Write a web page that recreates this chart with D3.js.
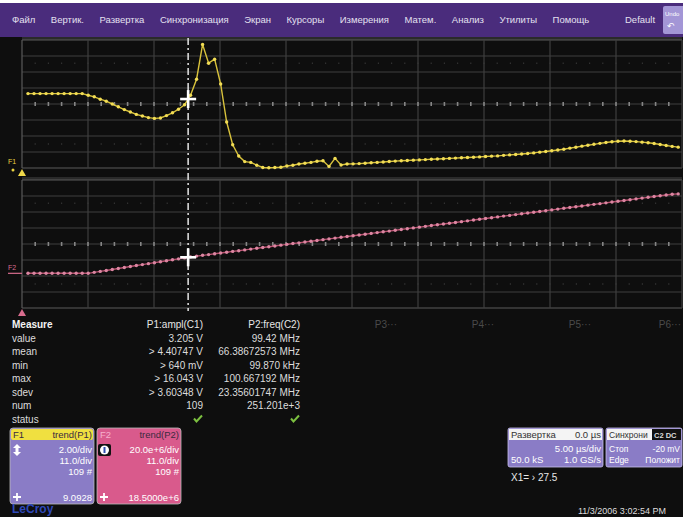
<!DOCTYPE html>
<html>
<head>
<meta charset="utf-8">
<script src="https://cdn.jsdelivr.net/npm/d3@7"></script>
<style>
    body { margin: 0; background: #fff; }
    svg { display: block; font-family: "Liberation Sans", Arial, sans-serif; }
</style>
</head>
<body>
<div id="scope"></div>
<script>
// menu bar labels
const menuItems = ["Файл", "Вертик.", "Развертка", "Синхронизация", "Экран", "Курсоры",
    "Измерения", "Матем.", "Анализ", "Утилиты", "Помощь"];

// F1 = trend(P1), volts per sample (109 samples)
const f1Values = [
    9.9, 9.9, 9.9, 9.9, 9.9, 9.9, 9.9, 9.9, 9.9, 9.9,
    9.7, 9.5, 9.2, 8.95, 8.6, 8.25, 7.9, 7.6, 7.3, 7.1,
    6.9, 6.8, 6.85, 7.15, 7.5, 7.95, 8.5, 9.7, 11.7, 16.04,
    13.7, 14.2, 11.1, 6.35, 3.5, 2.1, 1.4, 1.3, 0.95, 0.66,
    0.64, 0.66, 0.7, 0.85, 0.95, 1.1, 1.2, 1.3, 1.45, 1.5,
    0.8, 1.8, 0.98, 1.1, 1.12, 1.15, 1.2, 1.25, 1.3, 1.35,
    1.41, 1.46, 1.5, 1.54, 1.58, 1.61, 1.65, 1.69, 1.72, 1.76,
    1.8, 1.84, 1.88, 1.91, 1.95, 1.99, 2.03, 2.08, 2.11, 2.18,
    2.24, 2.29, 2.35, 2.41, 2.49, 2.58, 2.66, 2.75, 2.85, 2.95,
    3.08, 3.2, 3.33, 3.45, 3.56, 3.68, 3.79, 3.88, 3.95, 3.98,
    3.95, 3.9, 3.83, 3.75, 3.66, 3.54, 3.42, 3.3, 3.205
];

// F2 = trend(P2), MHz per sample (109 samples)
const f2Values = [
    0.1, 0.1, 0.1, 0.1, 0.1, 0.1, 0.1, 0.1, 0.1, 0.1,
    0.1, 1.3, 2.5, 3.7, 4.9, 6.2, 7.4, 8.6, 9.8, 11.0,
    12.2, 13.4, 14.6, 15.8, 17.0, 18.2, 19.4, 20.6, 21.6, 22.6,
    23.5, 24.5, 25.5, 26.5, 27.5, 28.4, 29.4, 30.4, 31.4, 32.4,
    33.3, 34.3, 35.3, 36.3, 37.3, 38.2, 39.2, 40.2, 41.2, 42.2,
    43.1, 44.1, 45.1, 46.1, 47.1, 48.0, 49.0, 50.0, 51.0, 52.0,
    52.9, 53.9, 54.9, 55.9, 56.9, 57.8, 58.8, 59.8, 60.8, 61.8,
    62.7, 63.7, 64.7, 65.7, 66.7, 67.6, 68.6, 69.6, 70.6, 71.6,
    72.5, 73.5, 74.5, 75.5, 76.5, 77.4, 78.4, 79.4, 80.4, 81.4,
    82.3, 83.3, 84.3, 85.3, 86.3, 87.2, 88.2, 89.2, 90.2, 91.2,
    92.1, 93.1, 94.1, 95.1, 96.1, 97.0, 98.0, 99.0, 99.4
];

// cursor position (sample index)
const cursorIndex = 26.6;

// measurement table
const measureRows = ["value", "mean", "min", "max", "sdev", "num", "status"];
const p1Column = ["3.205 V", "> 4.40747 V", "> 640 mV", "> 16.043 V", "> 3.60348 V", "109", "ok"];
const p2Column = ["99.42 MHz", "66.38672573 MHz", "99.870 kHz", "100.667192 MHz", "23.35601747 MHz", "251.201e+3", "ok"];
const paramHeaders = ["P1:ampl(C1)", "P2:freq(C2)", "P3\u00b7\u00b7\u00b7", "P4\u00b7\u00b7\u00b7", "P5\u00b7\u00b7\u00b7", "P6\u00b7\u00b7\u00b7"];

// trace descriptor boxes
const f1Box = ["2.00/div", "11.0/div", "109 #", "9.0928"];
const f2Box = ["20.0e+6/div", "11.0/div", "109 #", "18.5000e+6"];

const W = 683, H = 517;
const gridLeft = 22, gridRight = 682;
const panels = [
    { top: 40, bottom: 168 },
    { top: 180, bottom: 308 }
];

const svg = d3.select("#scope").append("svg")
    .attr("width", W)
    .attr("height", H);

// screen background
svg.append("rect").attr("x", 0).attr("y", 3).attr("width", W).attr("height", H - 3).attr("fill", "#0e0e0e");

// menu bar
svg.append("rect").attr("x", 0).attr("y", 3).attr("width", W).attr("height", 34).attr("fill", "#4a2c7c");
let mx = 12;
menuItems.forEach(label => {
    const t = svg.append("text")
        .attr("x", mx).attr("y", 23)
        .attr("font-size", "9.5px")
        .attr("fill", "#e4e0f0")
        .text(label);
    mx += t.node().getComputedTextLength() + 15.5;
});
svg.append("text").attr("x", 625).attr("y", 23).attr("font-size", "9.5px").attr("fill", "#e4e0f0").text("Default");
svg.append("rect").attr("x", 663).attr("y", 6).attr("width", 22).attr("height", 28).attr("rx", 2).attr("fill", "#a396d6");
svg.append("text").attr("x", 665).attr("y", 16).attr("font-size", "6px").attr("fill", "#fff").text("Undo");
svg.append("text").attr("x", 667).attr("y", 29).attr("font-size", "9px").attr("fill", "#fff").text("\u21b6");

// scales
const xScale = d3.scaleLinear().domain([0, f1Values.length - 1]).range([28, 678.2]);
const y1Scale = d3.scaleLinear().domain([0.6, 16.6]).range([panels[0].bottom, panels[0].top]);
const y2Scale = d3.scaleLinear().domain([-43.25, 116.75]).range([panels[1].bottom, panels[1].top]);

// grids
function drawGrid(p) {
    const g = svg.append("g");
    const divW = (gridRight - gridLeft) / 10, divH = (p.bottom - p.top) / 8;
    g.append("rect").attr("x", gridLeft).attr("y", p.top - 3).attr("width", gridRight - gridLeft).attr("height", 3).attr("fill", "#2a2a2a");
    d3.range(9).forEach(k => {
        g.append("line")
            .attr("x1", gridLeft).attr("x2", gridRight)
            .attr("y1", p.top + k * divH).attr("y2", p.top + k * divH)
            .attr("stroke", k === 0 || k === 8 ? "#5a5a5a" : "#3e3e3e")
            .attr("stroke-width", 1.2);
    });
    d3.range(11).forEach(k => {
        g.append("line")
            .attr("x1", gridLeft + k * divW).attr("x2", gridLeft + k * divW)
            .attr("y1", p.top).attr("y2", p.bottom)
            .attr("stroke", k === 0 ? "#5a5a5a" : "#3e3e3e")
            .attr("stroke-width", 1.2);
    });
    // minor ticks on center line and faint dotted rows
    const cy = p.top + 4 * divH;
    d3.range(1, 50).forEach(k => {
        const x = gridLeft + k * divW / 5;
        g.append("rect").attr("x", x - 0.8).attr("y", cy - 2).attr("width", 1.6).attr("height", 4).attr("fill", "#858585");
        [p.top + 1.45 * divH, p.top + 6.5 * divH].forEach(yy => {
            g.append("rect").attr("x", x - 0.6).attr("y", yy - 0.6).attr("width", 1.2).attr("height", 1.2).attr("fill", "#3a3a3a");
        });
    });
}
panels.forEach(drawGrid);

// traces
function drawTrace(values, yScale, lineColor, dotColor) {
    const line = d3.line().x((d, i) => xScale(i)).y(d => yScale(d));
    svg.append("path")
        .datum(values)
        .attr("d", line)
        .attr("fill", "none")
        .attr("stroke", lineColor)
        .attr("stroke-width", 1.4);
    svg.append("g").selectAll("circle")
        .data(values)
        .join("circle")
        .attr("cx", (d, i) => xScale(i))
        .attr("cy", d => yScale(d))
        .attr("r", 1.7)
        .attr("fill", dotColor);
}
drawTrace(f1Values, y1Scale, "#d8c23c", "#f2dd55");
drawTrace(f2Values, y2Scale, "#b8506e", "#dc86a2");

// trace markers on the left
svg.append("text").attr("x", 8).attr("y", 164).attr("font-size", "7px").attr("fill", "#e8d040").text("F1");
svg.append("path").attr("d", "M18,176 L22,169 L26,176 Z").attr("fill", "#f0d84a");
svg.append("circle").attr("cx", 13).attr("cy", 170).attr("r", 1.5).attr("fill", "#e8d040");
svg.append("text").attr("x", 8).attr("y", 270).attr("font-size", "7px").attr("fill", "#d86c8e").text("F2");
svg.append("line").attr("x1", 8).attr("x2", 22).attr("y1", y2Scale(f2Values[0])).attr("y2", y2Scale(f2Values[0]))
    .attr("stroke", "#d86c8e").attr("stroke-width", 1.2);
svg.append("path").attr("d", "M18,316 L22,309 L26,316 Z").attr("fill", "#d86c8e");

// cursor line
const cx = xScale(cursorIndex);
svg.append("line")
    .attr("x1", cx).attr("x2", cx).attr("y1", 38).attr("y2", 311)
    .attr("stroke", "#d8d8d8").attr("stroke-width", 1.6)
    .attr("stroke-dasharray", "7,3,2,3");

function interp(values, idx) {
    const i0 = Math.floor(idx), t = idx - i0;
    return values[i0] * (1 - t) + values[i0 + 1] * t;
}
function crosshair(x, y) {
    const g = svg.append("g").attr("stroke", "#fff").attr("stroke-width", 2.6);
    g.append("line").attr("x1", x - 8).attr("x2", x + 8).attr("y1", y).attr("y2", y);
    g.append("line").attr("x1", x).attr("x2", x).attr("y1", y - 9).attr("y2", y + 9);
}
crosshair(cx, y1Scale(interp(f1Values, cursorIndex)));
crosshair(cx, y2Scale(interp(f2Values, cursorIndex)));

// measurement table
const rowY0 = 328, rowStep = 13.5, colRight0 = 203, colStep = 97;
svg.append("text").attr("x", 12).attr("y", rowY0).attr("font-size", "10px").attr("font-weight", "bold").attr("fill", "#f4f4f4").text("Measure");
paramHeaders.forEach((h, k) => {
    svg.append("text")
        .attr("x", Math.min(colRight0 + k * colStep, W - 2)).attr("y", rowY0)
        .attr("text-anchor", "end")
        .attr("font-size", "10px")
        .attr("fill", k < 2 ? "#e6e6e6" : "#4a4a4a")
        .text(h);
});
function checkMark(x, y) {
    svg.append("path")
        .attr("d", `M${x - 4},${y - 3} L${x - 1.5},${y} L${x + 4},${y - 6}`)
        .attr("fill", "none").attr("stroke", "#7cc040").attr("stroke-width", 2);
}
measureRows.forEach((r, k) => {
    const y = rowY0 + (k + 1) * rowStep;
    svg.append("text").attr("x", 12).attr("y", y).attr("font-size", "10px").attr("fill", "#dcdcdc").text(r);
    [p1Column, p2Column].forEach((col, c) => {
        const xr = colRight0 + c * colStep;
        if (col[k] === "ok") { checkMark(xr - 5, y - 1); return; }
        svg.append("text").attr("x", xr).attr("y", y).attr("text-anchor", "end")
            .attr("font-size", "10px").attr("fill", "#dcdcdc").text(col[k]);
    });
});

// F1 / F2 descriptor boxes
function traceBox(x, w, fill, headerFill, name, title, lines, icon) {
    const top = 428, bottom = 504;
    const g = svg.append("g");
    g.append("rect").attr("x", x).attr("y", top).attr("width", w).attr("height", bottom - top)
        .attr("rx", 3).attr("fill", fill).attr("stroke", "#bbb").attr("stroke-width", 0.8);
    g.append("rect").attr("x", x + 1).attr("y", top + 1).attr("width", w - 2).attr("height", 11)
        .attr("rx", 2).attr("fill", headerFill);
    g.append("text").attr("x", x + 3).attr("y", top + 10).attr("font-size", "9.5px").attr("fill", name.color).text(name.text);
    g.append("text").attr("x", x + w - 2).attr("y", top + 10).attr("text-anchor", "end").attr("font-size", "9.5px").attr("fill", "#3a2a40").text(title);
    lines.slice(0, 3).forEach((t, k) => {
        g.append("text").attr("x", x + w - 2).attr("y", top + 25 + k * 11).attr("text-anchor", "end")
            .attr("font-size", "9.5px").attr("fill", "#fff").text(t);
    });
    g.append("text").attr("x", x + w - 2).attr("y", bottom - 3).attr("text-anchor", "end")
        .attr("font-size", "9.5px").attr("fill", "#fff").text(lines[3]);
    icon(g, x + 7, top + 22);
    // position icon at bottom
    g.append("path").attr("d", `M${x + 7},${bottom - 11} v8 M${x + 3},${bottom - 7} h8`)
        .attr("stroke", "#fff").attr("stroke-width", 1.8);
}
traceBox(10, 84, "#8a7cc6", "#f0e040", { text: "F1", color: "#3a2a40" }, "trend(P1)", f1Box, (g, x, y) => {
    g.append("path").attr("d", `M${x},${y - 6} l-4,4 h8 Z M${x},${y + 6} l-4,-4 h8 Z`).attr("fill", "#fff");
    g.append("rect").attr("x", x - 1.5).attr("y", y - 3).attr("width", 3).attr("height", 6).attr("fill", "#fff");
});
traceBox(97, 84, "#d95a8c", "#d95a8c", { text: "F2", color: "#f6b0cc" }, "trend(P2)", f2Box, (g, x, y) => {
    g.append("rect").attr("x", x - 6).attr("y", y - 6).attr("width", 13).attr("height", 12).attr("rx", 2).attr("fill", "#111");
    g.append("circle").attr("cx", x + 0.5).attr("cy", y).attr("r", 4.5).attr("fill", "#fff");
    g.append("rect").attr("x", x - 0.5).attr("y", y - 3).attr("width", 2).attr("height", 6).attr("fill", "#3050b0");
});

// timebase / trigger boxes
function infoBox(x, w, header, rows, fontSize) {
    const top = 428, h = 39;
    const g = svg.append("g");
    g.append("rect").attr("x", x).attr("y", top).attr("width", w).attr("height", h).attr("rx", 2)
        .attr("fill", "#8a7cc6").attr("stroke", "#c8c0ee").attr("stroke-width", 0.8);
    g.append("rect").attr("x", x + 1).attr("y", top + 1).attr("width", w - 2).attr("height", 11).attr("fill", "#f4f4f4");
    g.append("text").attr("x", x + 3).attr("y", top + 10).attr("font-size", fontSize).attr("fill", "#333").text(header[0]);
    g.append("text").attr("x", x + w - 2).attr("y", top + 10).attr("text-anchor", "end").attr("font-size", fontSize).attr("fill", "#333").text(header[1]);
    rows.forEach((r, k) => {
        const y = top + 24 + k * 11;
        if (r[0]) g.append("text").attr("x", x + 3).attr("y", y).attr("font-size", fontSize).attr("fill", "#fff").text(r[0]);
        g.append("text").attr("x", x + w - 2).attr("y", y).attr("text-anchor", "end").attr("font-size", fontSize).attr("fill", "#fff").text(r[1]);
    });
    return g;
}
infoBox(508, 95, ["Развертка", "0.0 µs"], [["", "5.00 µs/div"], ["50.0 kS", "1.0 GS/s"]], "9.5px");
const trig = infoBox(606, 76, ["Синхрони", ""], [["Стоп", "-20 mV"], ["Edge", "Положит"]], "8.5px");
trig.append("rect").attr("x", 652).attr("y", 429).attr("width", 29).attr("height", 11).attr("fill", "#111");
trig.append("text").attr("x", 654).attr("y", 437.5).attr("font-size", "7.5px").attr("font-weight", "bold").attr("fill", "#ddd").text("C2 DC");

svg.append("text").attr("x", 511).attr("y", 481).attr("font-size", "10px").attr("fill", "#e8e8e8").text("X1= \u203a 27.5");

// footer
svg.append("text").attr("x", 12).attr("y", 513).attr("font-size", "12px").attr("font-weight", "bold").attr("fill", "#2e48b8").text("LeCroy");
svg.append("text").attr("x", 578).attr("y", 514).attr("font-size", "9px").attr("fill", "#ddd").text("11/3/2006 3:02:54 PM");
</script>
</body>
</html>
